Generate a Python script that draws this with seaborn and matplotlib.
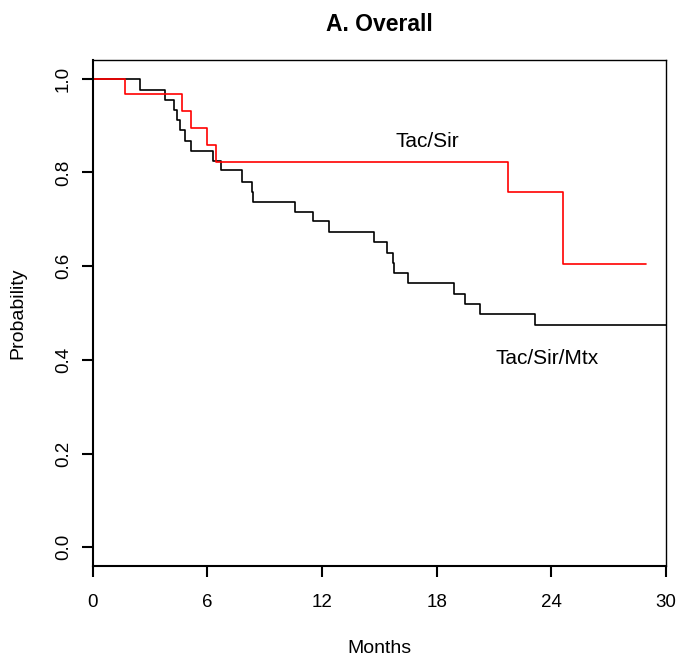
import matplotlib
matplotlib.use("Agg")
import matplotlib.pyplot as plt
import pandas as pd
import seaborn as sns

# Kaplan-Meier step points (month, survival after that month)
tacsir_months = [0, 1.7, 4.65, 5.15, 5.95, 6.45, 21.75, 24.6, 28.95]
tacsir_prob = [1.0, 0.967, 0.931, 0.894, 0.858, 0.823, 0.758, 0.605, 0.605]

tacsirmtx_months = [0, 2.45, 3.78, 4.25, 4.42, 4.56, 4.81, 5.12, 6.31, 6.73, 7.82,
                    8.33, 8.39, 10.6, 11.55, 12.35, 14.7, 15.38, 15.7, 15.76, 16.48,
                    18.93, 19.5, 20.28, 23.13, 30]
tacsirmtx_prob = [1.0, 0.977, 0.954, 0.933, 0.912, 0.891, 0.868, 0.846, 0.825, 0.805,
                  0.780, 0.759, 0.738, 0.716, 0.696, 0.673, 0.652, 0.628, 0.607, 0.586,
                  0.564, 0.540, 0.519, 0.497, 0.474, 0.474]

arms = ['Tac/Sir', 'Tac/Sir/Mtx']
x_ticks = [0, 6, 12, 18, 24, 30]
y_ticks = [0.0, 0.2, 0.4, 0.6, 0.8, 1.0]

df = pd.concat([
    pd.DataFrame({'Months': tacsir_months, 'Probability': tacsir_prob, 'arm': arms[0]}),
    pd.DataFrame({'Months': tacsirmtx_months, 'Probability': tacsirmtx_prob, 'arm': arms[1]}),
])

sns.set_style('ticks')
plt.rcParams['font.family'] = ['Liberation Sans', 'DejaVu Sans']
plt.rcParams['text.color'] = 'black'
plt.rcParams['axes.labelcolor'] = 'black'

fig = plt.figure(figsize=(6.78, 6.6), dpi=100)
ax = fig.add_axes([0.137, 0.1424, 0.845, 0.7666])

sns.lineplot(data=df, x='Months', y='Probability', hue='arm',
             palette={arms[0]: '#ff0000', arms[1]: '#000000'},
             hue_order=[arms[1], arms[0]],
             estimator=None, sort=False, drawstyle='steps-post',
             linewidth=1.2, legend=False, ax=ax)

ax.set_xlim(0, 30)
ax.set_ylim(-0.04, 1.04)
ax.set_xticks(x_ticks)
ax.set_xticklabels([str(t) for t in x_ticks])
ax.set_yticks(y_ticks)
ax.set_yticklabels([f'{t:.1f}' for t in y_ticks], rotation=90, va='center')
ax.tick_params(axis='both', direction='out', length=8, width=1.5,
               labelsize=13.5, colors='black')
ax.tick_params(axis='x', pad=12)
ax.tick_params(axis='y', pad=7)

for side in ['top', 'right']:
    ax.spines[side].set_linewidth(1.0)
for side in ['left', 'bottom']:
    ax.spines[side].set_linewidth(1.5)
for s in ax.spines.values():
    s.set_color('black')

ax.set_xlabel('Months', fontsize=14, labelpad=21)
ax.set_ylabel('Probability', fontsize=14, labelpad=21)
ax.set_title('A. Overall', fontsize=16.5, fontweight='bold', pad=21)

ax.text(17.5, 0.866, 'Tac/Sir', fontsize=15, ha='center', va='center')
ax.text(23.8, 0.402, 'Tac/Sir/Mtx', fontsize=15, ha='center', va='center')

fig.savefig('out.png', dpi=100)
